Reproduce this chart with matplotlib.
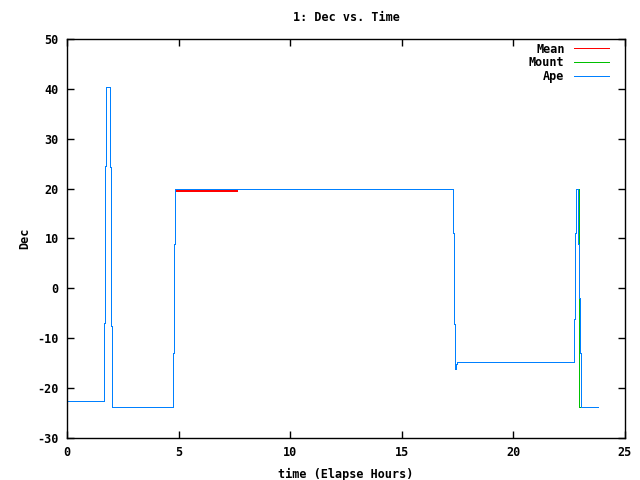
import matplotlib
matplotlib.use("Agg")
import matplotlib.pyplot as plt

# Dec vs elapsed time
ape_t = [0, 1.67, 1.70, 1.76, 1.94, 1.97, 2.03, 4.76, 4.79, 4.85, 17.31, 17.35,
         17.40, 17.43, 17.49, 22.73, 22.77, 22.82, 22.90, 22.93, 22.97, 23.01, 23.8]
ape_y = [-22.5, -6.9, 24.6, 40.3, 24.3, -7.6, -23.8, -12.9, 8.9, 19.9, 11.1, -7.1,
         -16.2, -15.2, -14.8, -6.2, 11.2, 19.9, 8.9, -2.0, -12.9, -23.8, -23.8]

mount_t = [0, 1.67, 1.70, 1.76, 1.94, 1.97, 2.03, 4.76, 4.79, 4.85, 17.31, 17.35,
           17.40, 17.43, 17.49, 22.73, 22.77, 22.80, 22.96, 23.8]
mount_y = [-22.5, -6.9, 24.6, 40.3, 24.3, -7.6, -23.8, -12.9, 8.9, 19.9, 11.1, -7.1,
           -16.2, -15.2, -14.8, -6.2, 11.2, 19.9, -23.8, -23.8]

mean_t = [4.87, 7.6]
mean_y = [19.6, 19.6]

xticks = [0, 5, 10, 15, 20, 25]
yticks = [-30, -20, -10, 0, 10, 20, 30, 40, 50]

font = {'family': 'DejaVu Sans Mono', 'weight': 'bold', 'size': 8.5}

fig = plt.figure(figsize=(6.4, 4.8), dpi=100)
ax = fig.add_axes([67/640, 1 - 438/480, (625-67)/640, (438-39)/480])

ax.plot(mean_t, mean_y, color='#ff0000', lw=1.44, drawstyle='steps-post',
        label='Mean', antialiased=False)
ax.plot(mount_t, mount_y, color='#00c000', lw=0.72, drawstyle='steps-post',
        label='Mount', antialiased=False)
ax.plot(ape_t, ape_y, color='#0080ff', lw=0.72, drawstyle='steps-post',
        label='Ape', antialiased=False)

ax.set_xlim(0, 25)
ax.set_ylim(-30, 50)
ax.set_xticks(xticks)
ax.set_yticks(yticks)
ax.set_xticklabels([str(v) for v in xticks], fontdict=font)
ax.set_yticklabels([str(v) for v in yticks], fontdict=font)
ax.tick_params(direction='in', length=5, width=1, top=True, right=True, pad=6)
for s in ax.spines.values():
    s.set_linewidth(1.0)

ax.set_title('1: Dec vs. Time', fontdict=font, pad=13)
ax.set_xlabel('time (Elapse Hours)', fontdict=font, labelpad=6)
ax.set_ylabel('Dec', fontdict=font, labelpad=4)

leg = ax.legend(loc='upper right', bbox_to_anchor=(1 - 12/558, 1.0),
                frameon=False, markerfirst=False,
                prop={'family': 'DejaVu Sans Mono', 'weight': 'bold', 'size': 8.5},
                handlelength=3.0, handletextpad=0.8, labelspacing=0.05,
                borderaxespad=0.0, borderpad=0.3)
for t in leg.get_texts():
    t.set_ha('right')
for h in leg.get_lines():
    h.set_linewidth(0.72)
    h.set_antialiased(False)

fig.savefig('out.png', dpi=100)
